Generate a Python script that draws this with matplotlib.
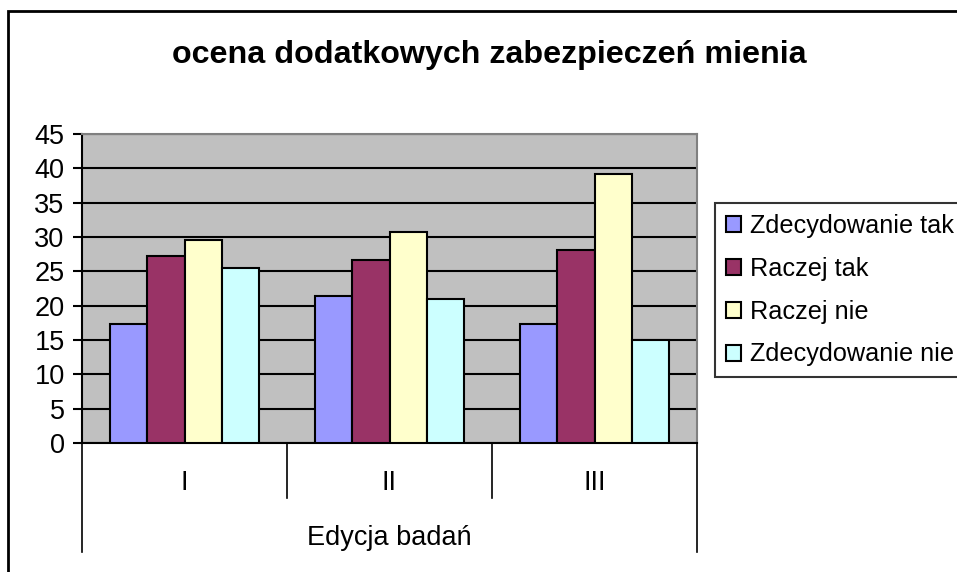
import matplotlib
matplotlib.use('Agg')
import matplotlib.pyplot as plt
import matplotlib.transforms as mtransforms
from matplotlib.patches import Rectangle
import numpy as np

plt.rcParams['font.family'] = ['Liberation Sans', 'DejaVu Sans']

categories = ['I', 'II', 'III']
series_names = ['Zdecydowanie tak', 'Raczej tak', 'Raczej nie', 'Zdecydowanie nie']
zdecydowanie_tak = [17.4, 21.4, 17.4]
raczej_tak = [27.3, 26.7, 28.1]
raczej_nie = [29.6, 30.8, 39.2]
zdecydowanie_nie = [25.5, 20.9, 15.0]
colors = ['#9999FF', '#993366', '#FFFFCC', '#CCFFFF']

values = [zdecydowanie_tak, raczej_tak, raczej_nie, zdecydowanie_nie]

W, H = 957, 572
fs = 19.5
fig = plt.figure(figsize=(W / 100, H / 100), dpi=100)
ax = fig.add_axes([82 / W, (H - 443) / H, (697 - 82) / W, (443 - 134) / H])
ax.set_facecolor('#C0C0C0')

x = np.arange(len(categories))
bw = 1 / 5.5
for i, (name, vals) in enumerate(zip(series_names, values)):
    ax.bar(x + (i - 1.5) * bw, vals, bw, color=colors[i], edgecolor='black',
           linewidth=1.5, label=name, zorder=3)

ax.set_xlim(-0.5, 2.5)
ax.set_ylim(0, 45)
ax.set_yticks(range(0, 46, 5))
ax.yaxis.grid(True, color='black', linewidth=1.5, zorder=1)
ax.set_axisbelow(True)
ax.tick_params(axis='y', direction='out', length=6.5, width=1.5, labelsize=fs, pad=6)
ax.set_xticks([])
for s in ['left', 'bottom']:
    ax.spines[s].set_color('black')
    ax.spines[s].set_linewidth(1.5)
for s in ['top', 'right']:
    ax.spines[s].set_color('#808080')
    ax.spines[s].set_linewidth(1.5)

# category table below the axis
trans = mtransforms.blended_transform_factory(ax.transData, ax.transAxes)
for b in [0.5, 1.5]:
    ax.plot([b, b], [0, -0.178], color='black', lw=1.2, transform=trans, clip_on=False)
for b in [-0.5, 2.5]:
    ax.plot([b, b], [0, -0.353], color='black', lw=1.2, transform=trans, clip_on=False)
for xi, lab in zip(x, categories):
    ax.text(xi, -0.13, lab, transform=trans, ha='center', va='center', fontsize=fs)
ax.text(1, -0.307, 'Edycja badań', transform=trans, ha='center', va='center', fontsize=fs)

fig.text(489 / W, 1 - 55 / H, 'ocena dodatkowych zabezpieczeń mienia',
         ha='center', va='center', fontsize=23.2, fontweight='bold')

leg = fig.legend(loc='upper left', bbox_to_anchor=(715 / W, 1 - 203 / H),
                 fontsize=18.2, frameon=True, fancybox=False, handlelength=0.6,
                 handleheight=0.6, handletextpad=0.35, labelspacing=0.75,
                 borderpad=0.42, borderaxespad=0)
leg.get_frame().set_edgecolor('black')
leg.get_frame().set_linewidth(1.5)

fig.patches.append(Rectangle((8 / W, -0.1), 1.2, 1.1 - 11 / H, fill=False,
                             edgecolor='black', linewidth=2,
                             transform=fig.transFigure, figure=fig))

fig.savefig('out.png', dpi=100)
